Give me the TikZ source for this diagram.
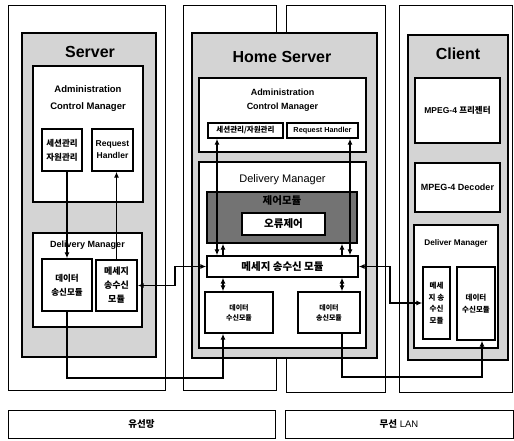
\documentclass[tikz,border=0pt]{standalone}
\usepackage{fontspec}
\setmainfont{Liberation Sans}
\newfontfamily\kr{Noto Sans CJK KR}
\usetikzlibrary{arrows.meta}
\tikzset{
  frm/.style={draw, line width=1pt},
  shd/.style={draw, line width=1.4pt, fill=black!17},
  bx/.style={draw, line width=1.4pt, fill=white, inner sep=0pt, align=center},
  darkbox/.style={draw, line width=1.3pt, fill=black!55},
  lbl/.style={inner sep=0pt, align=center},
  conn/.style={line width=1.4pt},
  ttl/.style={lbl, font=\fontsize{16}{16}\selectfont\bfseries},
}
\newcommand\fs[2]{\fontsize{#1}{#2}\selectfont}
\begin{document}
\begin{tikzpicture}[x=1pt,y=-1pt, >={Latex[length=6pt,width=5pt]}]
\useasboundingbox (0,0) rectangle (514,440);
% ---------- outer frames ----------
\node[frm, minimum width=157pt, minimum height=385pt] (srvframe) at (86.5,197.5) {};
\node[frm, minimum width=93pt, minimum height=385pt] (homeframeA) at (229.5,197.5) {};
\node[frm, minimum width=99pt, minimum height=387pt] (homeframeB) at (335.5,198.5) {};
\node[frm, minimum width=113pt, minimum height=387pt] (cliframe) at (455.5,198.5) {};
% ---------- shaded blocks ----------
\node[shd, minimum width=134pt, minimum height=324pt] (srvshade) at (89,195) {};
\node[shd, minimum width=185pt, minimum height=325pt] (homeshade) at (284.5,195.5) {};
\node[shd, minimum width=100pt, minimum height=325pt] (clishade) at (458,197.5) {};
% ---------- Server ----------
\node[ttl] (srvtitle) at (90,52) {Server};
\node[bx, minimum width=110pt, minimum height=136pt] (srvacm) at (88,134) {};
\node[lbl, font=\fs{9.5}{17}\bfseries] (srvacmlbl) at (88,98.5) {Administration\\Control Manager};
\node[bx, minimum width=40pt, minimum height=42pt, font=\kr\fs{8.5}{14}\bfseries] (srvsess) at (62,150) {세션관리\\자원관리};
\node[bx, minimum width=41pt, minimum height=42pt, font=\fs{8.5}{12}\bfseries] (srvreq) at (112.5,150) {Request\\Handler};
\node[bx, minimum width=109pt, minimum height=94pt] (srvdm) at (87.5,280) {};
\node[lbl, font=\fs{9}{9}\bfseries] (srvdmlbl) at (87.5,245) {Delivery Manager};
\node[bx, minimum width=50pt, minimum height=52pt, font=\kr\fs{8.5}{14}\bfseries] (srvdata) at (67,285) {데이터\\송신모듈};
\node[bx, minimum width=41pt, minimum height=51pt, font=\kr\fs{9}{14}\bfseries] (srvmsg) at (116.5,285.5) {메세지\\송수신\\모듈};
% ---------- Home Server ----------
\node[ttl] (hometitle) at (282,57) {Home Server};
\node[bx, minimum width=167pt, minimum height=74pt] (homeacm) at (282.5,115) {};
\node[lbl, font=\fs{9}{14}\bfseries] (homeacmlbl) at (282.5,100) {Administration\\Control Manager};
\node[bx, minimum width=75pt, minimum height=15pt, font=\kr\fs{7.5}{7.5}\bfseries] (homesess) at (245.5,130.5) {세션관리/자원관리};
\node[bx, minimum width=71pt, minimum height=15pt, font=\fs{7.3}{7.3}\bfseries] (homereq) at (322.5,130.5) {Request Handler};
\node[bx, minimum width=167pt, minimum height=186pt] (homedm) at (282.5,255) {};
\node[lbl, font=\fs{11}{11}] (homedmlbl) at (282.5,180) {Delivery Manager};
\node[darkbox, minimum width=150pt, minimum height=51pt] (homectl) at (282,217.5) {};
\node[lbl, font=\kr\fs{10.5}{10.5}\bfseries] (homectllbl) at (282,201) {제어모듈};
\node[bx, minimum width=83pt, minimum height=22pt, font=\kr\fs{10.5}{10.5}\bfseries] (homeerr) at (283.5,224) {오류제어};
\node[bx, minimum width=151pt, minimum height=21pt, font=\kr\fs{10.5}{10.5}\bfseries] (homemsg) at (282.5,266.5) {메세지 송수신 모듈};
\node[bx, minimum width=68pt, minimum height=41pt, font=\kr\fs{7}{10}\bfseries] (homerecv) at (239,312.5) {데이터\\수신모듈};
\node[bx, minimum width=62pt, minimum height=41pt, font=\kr\fs{7}{10}\bfseries] (homesend) at (329,312.5) {데이터\\송신모듈};
% ---------- Client ----------
\node[ttl] (clititle) at (458,54) {Client};
\node[bx, minimum width=85pt, minimum height=65pt, font=\fs{8.5}{8.5}\bfseries] (clipres) at (457.5,110.5) {MPEG-4 {\kr 프리젠터}};
\node[bx, minimum width=85pt, minimum height=49pt, font=\fs{9}{9}\bfseries] (clidec) at (457.5,187.5) {MPEG-4 Decoder};
\node[bx, minimum width=84pt, minimum height=123pt] (clidm) at (456,286.5) {};
\node[lbl, font=\fs{8.2}{8.2}\bfseries] (clidmlbl) at (456,243) {Deliver Manager};
\node[bx, minimum width=27pt, minimum height=72pt, font=\kr\fs{7.5}{11.5}\bfseries] (climsg) at (436.5,303) {메세\\지 송\\수신\\모듈};
\node[bx, minimum width=38pt, minimum height=73pt, font=\kr\fs{7.5}{12}\bfseries] (clirecv) at (476,303.5) {데이터\\수신모듈};
% ---------- networks ----------
\node[frm, minimum width=267pt, minimum height=28pt, font=\kr\fs{9.5}{9.5}\bfseries] (wired) at (141.5,424) {유선망};
\node[frm, minimum width=228pt, minimum height=28pt, font=\fs{9.5}{9.5}] (wireless) at (399,424) {{\kr\bfseries 무선} LAN};
% ---------- helper coordinates ----------
\coordinate (xa) at (217,0);
\coordinate (xb) at (223,0);
\coordinate (xc) at (342,0);
\coordinate (xd) at (350,0);
\coordinate (xe) at (482,0);
\coordinate (xf) at (390,0);
\coordinate (xg) at (175,0);
\coordinate (ya) at (0,378);
\coordinate (yb) at (0,377);
% ---------- connectors: Server ----------
\draw[conn,->] (srvdata.north |- srvsess.south) -- (srvdata.north);
\draw[conn,->] (srvmsg.north) -- (srvmsg.north |- srvreq.south);
\draw[conn,<->] (srvmsg.east) -- (srvmsg.east -| xg) |- (homemsg.west);
\draw[conn,->] (srvdata.south) |- (xb |- ya) -- (homerecv.south -| xb);
% ---------- connectors: Home Server ----------
\draw[conn,<->] (homesess.south -| xa) -- (homemsg.north -| xa);
\draw[conn,->] (homemsg.north -| xb) -- (homectl.south -| xb);
\draw[conn,<->] (homemsg.south -| xb) -- (homerecv.north -| xb);
\draw[conn,<->] (homereq.south -| xd) -- (homemsg.north -| xd);
\draw[conn,->] (homemsg.north -| xc) -- (homectl.south -| xc);
\draw[conn,<->] (homemsg.south -| xc) -- (homesend.north -| xc);
\draw[conn,->] (homesend.south -| xc) |- (xe |- yb) -- (clirecv.south -| xe);
\draw[conn,<->] (homemsg.east) -- (homemsg.east -| xf) |- (climsg.west);
\end{tikzpicture}
\end{document}
